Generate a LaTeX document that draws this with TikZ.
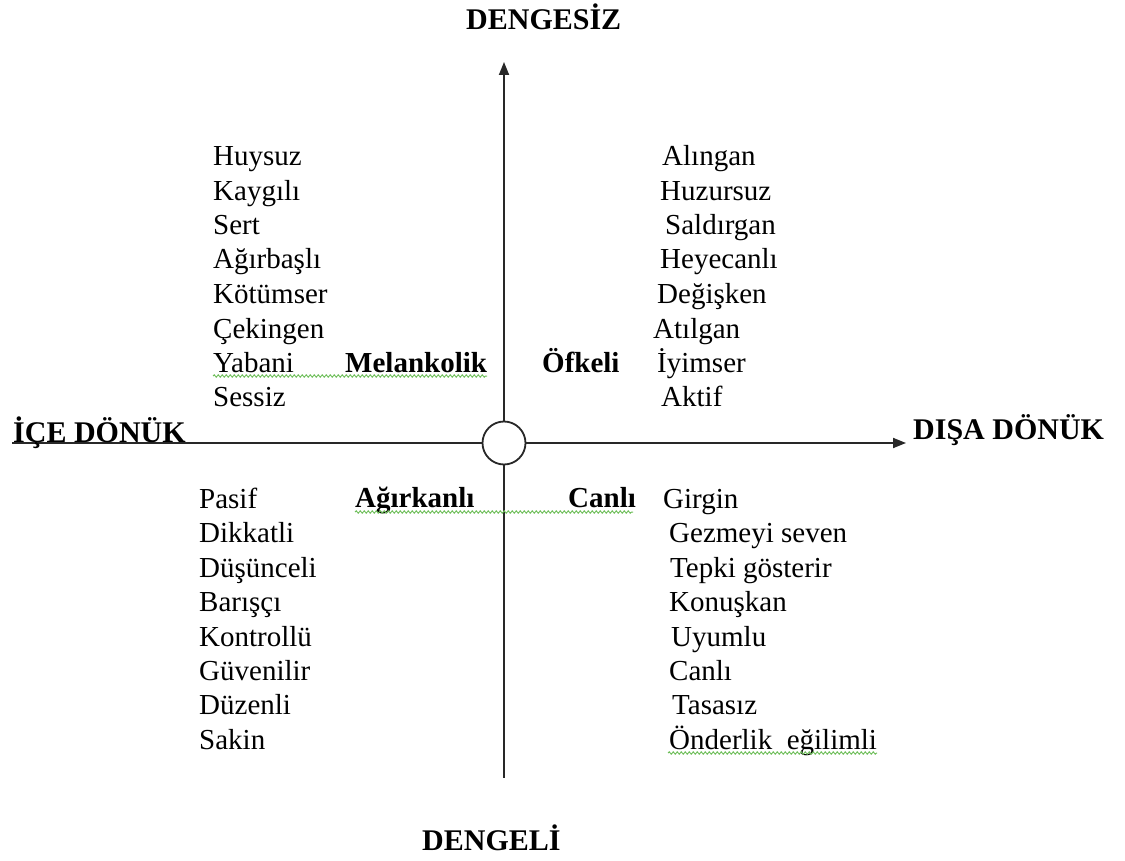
\documentclass[tikz,border=0pt]{standalone}
\usepackage{fontspec}
\setmainfont{Liberation Serif}
\usetikzlibrary{arrows.meta,decorations.pathmorphing}
\definecolor{squig}{RGB}{110,190,90}
\definecolor{axis}{RGB}{40,40,40}
\begin{document}
\begin{tikzpicture}[x=1pt,y=-1pt,
  word/.style={anchor=base west,inner sep=0pt,font=\fontsize{29}{34}\selectfont},
  bword/.style={word,font=\fontsize{29}{34}\selectfont\bfseries},
  tword/.style={word,font=\fontsize{30}{34}\selectfont\bfseries},
  axisline/.style={draw=axis,line width=1.8pt},
  axisarrow/.style={axisline,-{Triangle[length=13pt,width=10pt]}},
  wavy/.style={draw=squig,line width=1pt,decorate,decoration={snake,amplitude=1.1pt,segment length=4pt}}]
\useasboundingbox (0,0) rectangle (1125,861);
% centre circle
\node[circle,draw=axis,line width=1.8pt,minimum size=43pt,inner sep=0pt,fill=white] (c) at (504,443) {};
\coordinate (top) at (504,62);
\coordinate (bottom) at (504,778);
\coordinate (left) at (12,443);
\coordinate (right) at (906,443);
\draw[axisarrow] (c.north) -- (top);
\draw[axisline] (c.south) -- (bottom);
\draw[axisline] (c.west) -- (left);
\draw[axisarrow] (c.east) -- (right);
% titles
\node[tword] (t1) at (466,30) {DENGESİZ};
\node[tword] (t2) at (422,850) {DENGELİ};
\node[tword] (t3) at (13,442) {İÇE DÖNÜK};
\node[tword] (t4) at (913,439) {DIŞA DÖNÜK};
% upper left
\node[word] (ul1) at (213,166) {Huysuz};
\node[word] (ul2) at (213,200.5) {Kaygılı};
\node[word] (ul3) at (213,235) {Sert};
\node[word] (ul4) at (213,269) {Ağırbaşlı};
\node[word] (ul5) at (213,304) {Kötümser};
\node[word] (ul6) at (213,338) {Çekingen};
\node[word] (ul7) at (213,372) {Yabani};
\node[word] (ul8) at (213,406) {Sessiz};
% upper right
\node[word] (ur1) at (662,166) {Alıngan};
\node[word] (ur2) at (660,200.5) {Huzursuz};
\node[word] (ur3) at (665,235) {Saldırgan};
\node[word] (ur4) at (660,269) {Heyecanlı};
\node[word] (ur5) at (657,304) {Değişken};
\node[word] (ur6) at (653,338) {Atılgan};
\node[word] (ur7) at (657,372) {İyimser};
\node[word] (ur8) at (661,406) {Aktif};
% lower left
\node[word] (ll1) at (199,508) {Pasif};
\node[word] (ll2) at (199,542.5) {Dikkatli};
\node[word] (ll3) at (199,577) {Düşünceli};
\node[word] (ll4) at (199,611) {Barışçı};
\node[word] (ll5) at (199,646) {Kontrollü};
\node[word] (ll6) at (199,680) {Güvenilir};
\node[word] (ll7) at (199,714.5) {Düzenli};
\node[word] (ll8) at (199,749) {Sakin};
% lower right
\node[word] (lr1) at (663,508) {Girgin};
\node[word] (lr2) at (669,542.5) {Gezmeyi seven};
\node[word] (lr3) at (670,577) {Tepki gösterir};
\node[word] (lr4) at (669,611) {Konuşkan};
\node[word] (lr5) at (671,646) {Uyumlu};
\node[word] (lr6) at (669,680) {Canlı};
\node[word] (lr7) at (672,714.5) {Tasasız};
\node[word] (lr8) at (669,749) {Önderlik\ \ eğilimli};
% temperament names
\node[bword] (m1) at (345,372) {Melankolik};
\node[bword] (m2) at (542,372) {Öfkeli};
\node[bword] (m3) at (355,507) {Ağırkanlı};
\node[bword] (m4) at (568,507) {Canlı};
% spell-check squiggles
\draw[wavy] (213,376) -- (487,376);
\draw[wavy] (355,512) -- (633,512);
\draw[wavy] (668,753) -- (877,753);
\end{tikzpicture}
\end{document}
